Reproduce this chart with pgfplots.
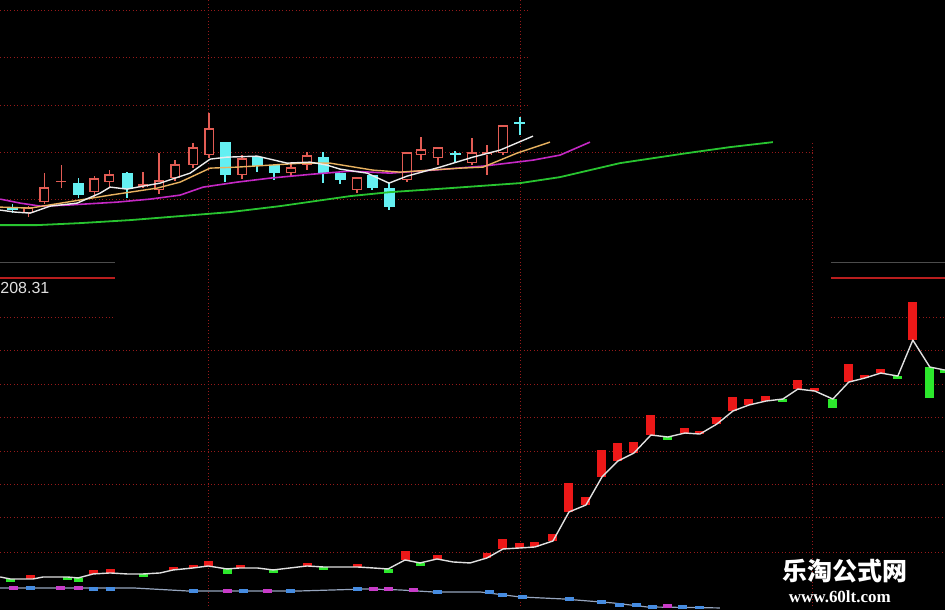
\documentclass[border=0pt]{standalone}
\usepackage{pgfplots}
\pgfplotsset{compat=1.18}
\usepackage{pgfplotstable}
\usepackage{fontspec}
\setmainfont{Liberation Sans}
\newfontfamily\cjk{Noto Sans CJK SC}
\newfontfamily\serifface{Liberation Serif}

\definecolor{candleup}{RGB}{226,92,84}
\definecolor{candledn}{RGB}{100,240,242}
\definecolor{maA}{RGB}{236,236,236}
\definecolor{maB}{RGB}{232,178,96}
\definecolor{maC}{RGB}{196,40,196}
\definecolor{maD}{RGB}{40,196,48}
\definecolor{gridred}{RGB}{150,26,26}
\definecolor{rulered}{RGB}{185,30,30}
\definecolor{volup}{RGB}{236,24,24}
\definecolor{voldn}{RGB}{44,232,44}
\definecolor{lowblue}{RGB}{70,140,225}
\definecolor{lowmag}{RGB}{200,60,200}
\definecolor{lowline}{RGB}{150,165,190}

\tikzset{griddot/.style={gridred, line width=1pt, dash pattern=on 1pt off 2.4pt}}

% price candles, pixel rows (smaller = higher price)
% up days: open = body bottom, close = body top
\pgfplotstableread{
x   open  close high low
28  213   207   206  217
44  202   187   173  204
61  182   180.5 165  188
94  192   178   176  197
109 182   174   170  187
143 187   184   172  188
159 190   180   153  194
175 178   164   160  181
193 165   147   143  168
209 155   128   113  158
242 175   158   155  179
291 173   167   162  176
307 165   155   152  170
357 190   177   177  193
407 180   152   152  182
421 155   149   137  160
438 158   147   147  165
472 163   152   138  165
487 155   152   145  175
503 153   125   125  155
}\upcandles

% down days: open = body top, close = body bottom
\pgfplotstableread{
x   open  close high low
12  208   210   204  213
78  183   195   178  198
127 173   188   172  198
225 142   175   142  182
257 157   166   157  172
274 165   173   165  180
323 157   173   152  183
340 173   180   173  184
372 175   188   175  190
389 188   207   183  210
455 153   155   151  163
520 122   124   117  135
}\downcandles

% moving averages
\pgfplotstableread{
x y
0 210
15 212
30 213
50 206
77 203
100 193
110 187
127 189
143 186
160 183
175 178
190 173
210 159
227 157
257 156
270 159
287 163
310 162
327 165
340 169
367 173
389 183
407 176
440 167
473 157
500 150
533 136
}\maFive

\pgfplotstableread{
x y
0 207
30 208
67 202
110 195
157 188
180 182
210 168
237 167
270 165
303 163
330 163
373 170
400 172
460 168
483 167
517 153
550 142
}\maTen

\pgfplotstableread{
x y
0 199
20 203
40 206
67 205
117 202
150 199
180 195
203 187
237 182
270 178
313 174
350 171
390 173
433 170
483 166
533 160
560 155
590 142
}\maTwenty

\pgfplotstableread{
x y
0 225
37 225
80 223
130 220
180 216
230 212
280 206
350 196
390 192
450 188
520 183
560 177
620 163
687 153
730 147
773 142
}\maSixty

% indicator line in the lower panel
\pgfplotstableread{
x y
0 577
10 579
33 579
43 577
67 577
78 578
93 574
110 573
127 574
143 574
160 573
173 570
193 568
208 566
227 569
240 568
257 568
273 570
290 568
307 566
323 567
340 567
357 567
373 568
388 569
405 560
420 563
437 559
453 562
470 563
487 558
503 549
520 548
535 547
553 541
569 512
586 505
602 477
618 461
634 453
651 435
668 437
685 433
700 434
717 424
733 411
749 405
766 401
783 399
798 389
815 391
833 399
849 382
865 378
881 373
898 376
913 340
930 367
945 370
}\indline

\pgfplotstableread{
x top bot
30 575 579
93 570 574
110 569 573
173 567 570
193 565 568
208 561 566
240 565 568
307 563 566
357 564 567
405 551 560
437 555 559
487 553 558
503 539 549
520 543 548
535 542 547
553 534 541
569 483 512
586 497 505
602 450 477
618 443 461
634 442 453
651 415 435
685 428 433
700 431 434
717 417 424
733 397 411
749 399 405
766 396 401
798 380 389
815 388 391
849 364 382
865 375 378
881 369 373
913 302 340
}\indup

\pgfplotstableread{
x top bot
10 579 582
67 577 580
78 578 582
143 574 577
227 569 574
273 570 573
323 567 570
388 569 573
420 563 566
668 437 440
783 399 402
833 399 408
898 376 379
930 367 398
945 370 373
}\inddown

% second indicator along the bottom edge
\pgfplotstableread{
x y
0 588
133 588
187 591
233 591
300 591
367 589
400 590
433 592
480 592
520 597
563 599
613 603
647 607
720 608
}\lowline

\pgfplotstableread{
x top bot
30 586 590
93 587 591
110 587 591
193 589 593
243 589 593
290 589 593
357 587 591
437 590 594
490 590 594
503 593 597
523 595 599
570 597 601
602 600 604
620 603 607
637 603 607
653 605 609
683 605 609
700 606 610
}\lowblueblk

\pgfplotstableread{
x top bot
13 586 590
60 586 590
78 586 590
227 589 593
267 589 593
373 587 591
388 587 591
413 588 592
668 604 608
}\lowmagblk

\pgfplotsset{
  wick/.style={draw=none, mark=none, forget plot,
    error bars/.cd, y dir=both, y explicit, error mark=none,
    error bar style={draw=#1, line width=1.3pt}},
  block/.style 2 args={draw=none, mark=none, forget plot,
    error bars/.cd, y dir=both, y explicit, error mark=none,
    error bar style={draw=#1, line width=#2}},
}

\begin{document}
\begin{tikzpicture}
\begin{axis}[
  scale only axis, width=945pt, height=609pt,
  xmin=0, xmax=945, ymin=0, ymax=609, y dir=reverse,
  axis background/.style={fill=black},
  axis line style={draw=black}, ticks=none,
]
% grid of the price panel
\draw[griddot] (axis cs:0,10) -- (axis cs:530,10);
\draw[griddot] (axis cs:0,57) -- (axis cs:530,57);
\draw[griddot] (axis cs:0,105) -- (axis cs:530,105);
\draw[griddot] (axis cs:0,152) -- (axis cs:815,152);
\draw[griddot] (axis cs:0,199) -- (axis cs:815,199);
% grid of the indicator panel
\draw[griddot] (axis cs:0,350) -- (axis cs:945,350);
\draw[griddot] (axis cs:0,384) -- (axis cs:945,384);
\draw[griddot] (axis cs:0,417) -- (axis cs:945,417);
\draw[griddot] (axis cs:0,451) -- (axis cs:945,451);
\draw[griddot] (axis cs:0,485) -- (axis cs:945,485);
\draw[griddot] (axis cs:0,518) -- (axis cs:945,518);
\draw[griddot] (axis cs:0,553) -- (axis cs:945,553);
\draw[griddot] (axis cs:0,317) -- (axis cs:115,317);
\draw[griddot] (axis cs:831,317) -- (axis cs:945,317);
\draw[griddot] (axis cs:208,0) -- (axis cs:208,609);
\draw[griddot] (axis cs:521,0) -- (axis cs:521,609);
\draw[griddot] (axis cs:813,143) -- (axis cs:813,609);
% panel separators
\draw[black!70!white, line width=1pt] (axis cs:0,262) -- (axis cs:115,262);
\draw[black!70!white, line width=1pt] (axis cs:831,262) -- (axis cs:945,262);
\draw[rulered, line width=1.5pt] (axis cs:0,278) -- (axis cs:115,278);
\draw[rulered, line width=1.5pt] (axis cs:831,278) -- (axis cs:945,278);

% candles: wicks, then bodies
\addplot[wick=candleup] table[x=x, y expr={(\thisrow{high}+\thisrow{low})/2},
  y error expr={abs(\thisrow{low}-\thisrow{high})/2}] {\upcandles};
\addplot[wick=candledn] table[x=x, y expr={(\thisrow{high}+\thisrow{low})/2},
  y error expr={abs(\thisrow{low}-\thisrow{high})/2}] {\downcandles};
\addplot[block={candleup}{10pt}] table[x=x, y expr={(\thisrow{open}+\thisrow{close})/2},
  y error expr={max(abs(\thisrow{close}-\thisrow{open})/2,0.75)}] {\upcandles};
\addplot[block={black}{7.2pt}] table[x=x, y expr={(\thisrow{open}+\thisrow{close})/2},
  y error expr={max(abs(\thisrow{close}-\thisrow{open})/2-1.4,0)}] {\upcandles};
\addplot[block={candledn}{11pt}] table[x=x, y expr={(\thisrow{open}+\thisrow{close})/2},
  y error expr={max(abs(\thisrow{close}-\thisrow{open})/2,0.75)}] {\downcandles};

% moving averages
\addplot[maD, line width=1.8pt, line join=round, mark=none] table {\maSixty};
\addplot[maC, line width=1.6pt, line join=round, mark=none] table {\maTwenty};
\addplot[maB, line width=1.4pt, line join=round, mark=none] table {\maTen};
\addplot[maA, line width=1.4pt, line join=round, mark=none] table {\maFive};

% lower indicators
\addplot[lowline, line width=1.2pt, mark=none] table {\lowline};
\addplot[block={lowblue}{9pt}] table[x=x, y expr={(\thisrow{top}+\thisrow{bot})/2},
  y error expr={(\thisrow{bot}-\thisrow{top})/2}] {\lowblueblk};
\addplot[block={lowmag}{9pt}] table[x=x, y expr={(\thisrow{top}+\thisrow{bot})/2},
  y error expr={(\thisrow{bot}-\thisrow{top})/2}] {\lowmagblk};
\addplot[block={volup}{9pt}] table[x=x, y expr={(\thisrow{top}+\thisrow{bot})/2},
  y error expr={(\thisrow{bot}-\thisrow{top})/2}] {\indup};
\addplot[block={voldn}{9pt}] table[x=x, y expr={(\thisrow{top}+\thisrow{bot})/2},
  y error expr={(\thisrow{bot}-\thisrow{top})/2}] {\inddown};
\addplot[white!88!black, line width=1.4pt, line join=round, mark=none] table {\indline};

% labels
\node[anchor=west, text=white!88!black, font=\fontsize{16}{16}\selectfont, inner sep=0pt]
  at (axis cs:0,288) {208.31};
\node[text=white, font=\cjk\bfseries\fontsize{25}{25}\selectfont, inner sep=0pt]
  at (axis cs:845,571) {乐淘公式网};
\node[text=white, font=\serifface\bfseries\fontsize{17}{17}\selectfont, inner sep=0pt]
  at (axis cs:840,597) {www.60lt.com};
\end{axis}
\end{tikzpicture}
\end{document}
